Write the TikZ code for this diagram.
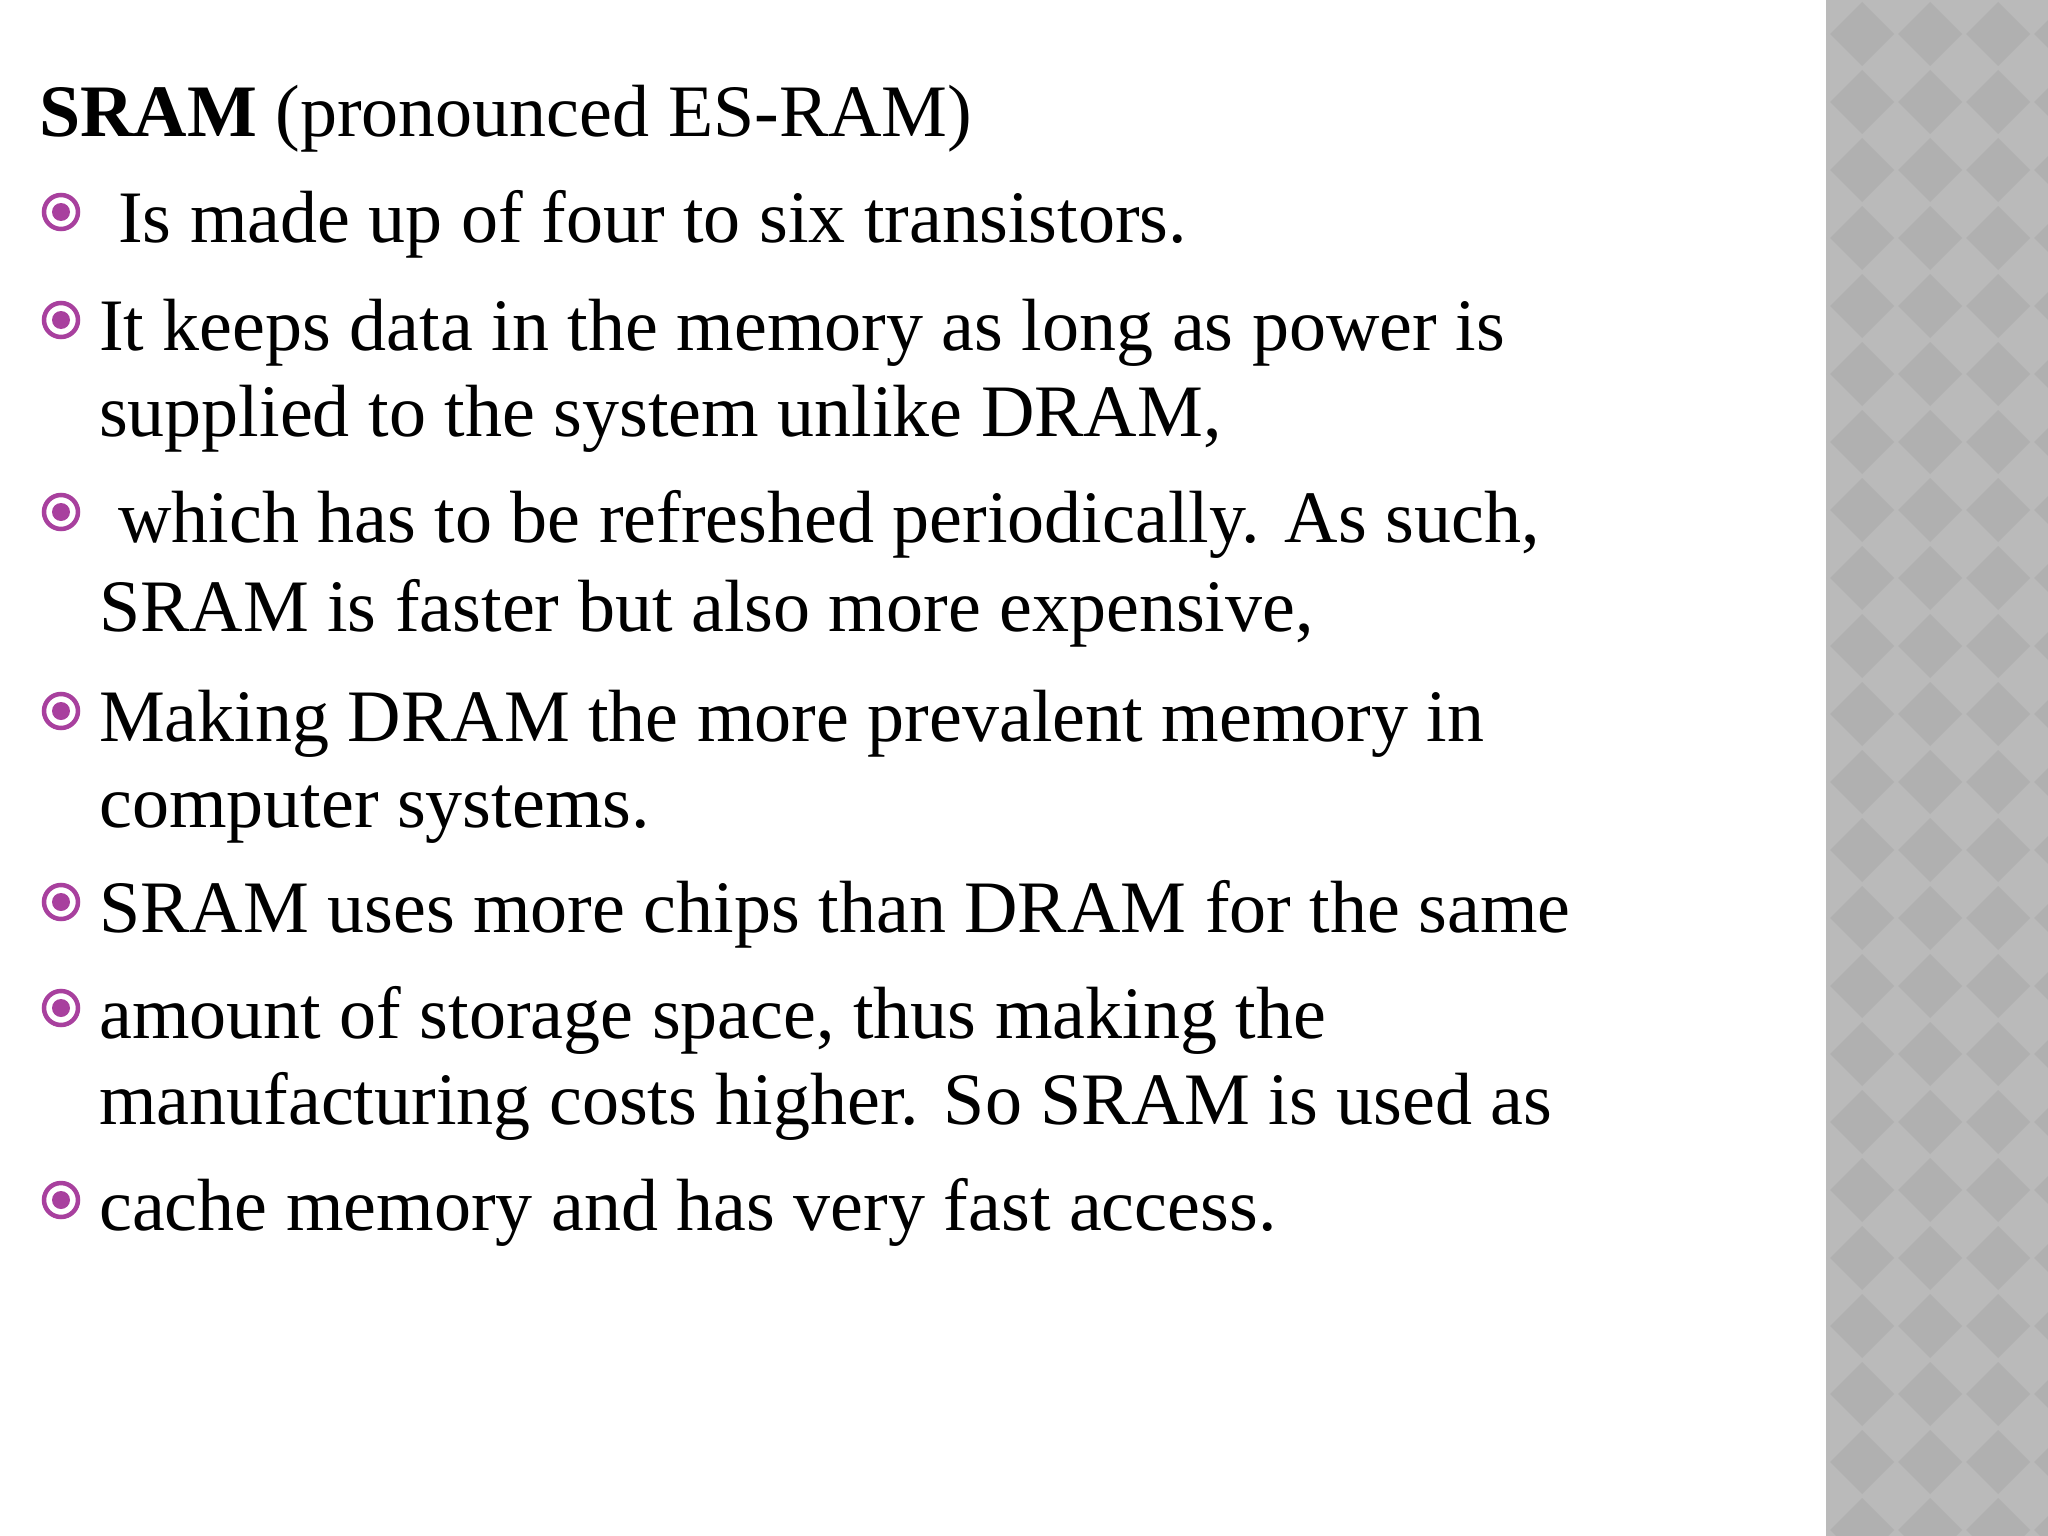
\documentclass[tikz,border=0pt]{standalone}
\usepackage{fontspec}
\setmainfont{Liberation Serif}
\definecolor{bul}{HTML}{A8409E}
\definecolor{panel}{HTML}{BABABA}
\definecolor{dia}{HTML}{B0B0B0}
\begin{document}
\begin{tikzpicture}[x=1pt,y=-1pt,
  txt/.style={anchor=base west,inner sep=0pt,font=\fontsize{74}{74}\selectfont},
  bullet/.style={circle,draw=bul,line width=4.5pt,minimum size=34pt,inner sep=0pt,
     path picture={\fill[bul] (path picture bounding box.center) circle (9pt);}}]
\useasboundingbox (0,0) rectangle (2048,1536);
\fill[white] (0,0) rectangle (2048,1536);
\fill[panel] (1826,0) rectangle (2048,1536);
\begin{scope}
\clip (1826,0) rectangle (2048,1536);
\foreach \i in {-1,...,3}{\foreach \j in {0,...,23}{
  \fill[dia] ({1862+68*\i},{34+68*\j}) ++(0,-32) -- ++(32,32) -- ++(-32,32) -- ++(-32,-32) -- cycle;}}
\end{scope}
\node[txt] (t0) at (39,137) {\textbf{SRAM} (pronounced ES-RAM)};
\foreach \n/\y in {1/242,2/350,3/542,4/741,5/932,6/1038,7/1230}{
  \node[bullet] (b\n) at (61,\y-30) {};}
\node[txt] (t1) at (118,242) {Is made up of four to six transistors.};
\node[txt] (t2) at (99,350) {It keeps data in the memory as long as power is};
\node[txt] (t2b) at (99,436) {supplied to the system unlike DRAM,};
\node[txt] (t3) at (118,542) {which has to be refreshed periodically. As such,};
\node[txt] (t3b) at (99,631) {SRAM is faster but also more expensive,};
\node[txt] (t4) at (99,741) {Making DRAM the more prevalent memory in};
\node[txt] (t4b) at (99,827) {computer systems.};
\node[txt] (t5) at (99,932) {SRAM uses more chips than DRAM for the same};
\node[txt] (t6) at (99,1038) {amount of storage space, thus making the};
\node[txt] (t6b) at (99,1124) {manufacturing costs higher. So SRAM is used as};
\node[txt] (t7) at (99,1230) {cache memory and has very fast access.};
\end{tikzpicture}
\end{document}
